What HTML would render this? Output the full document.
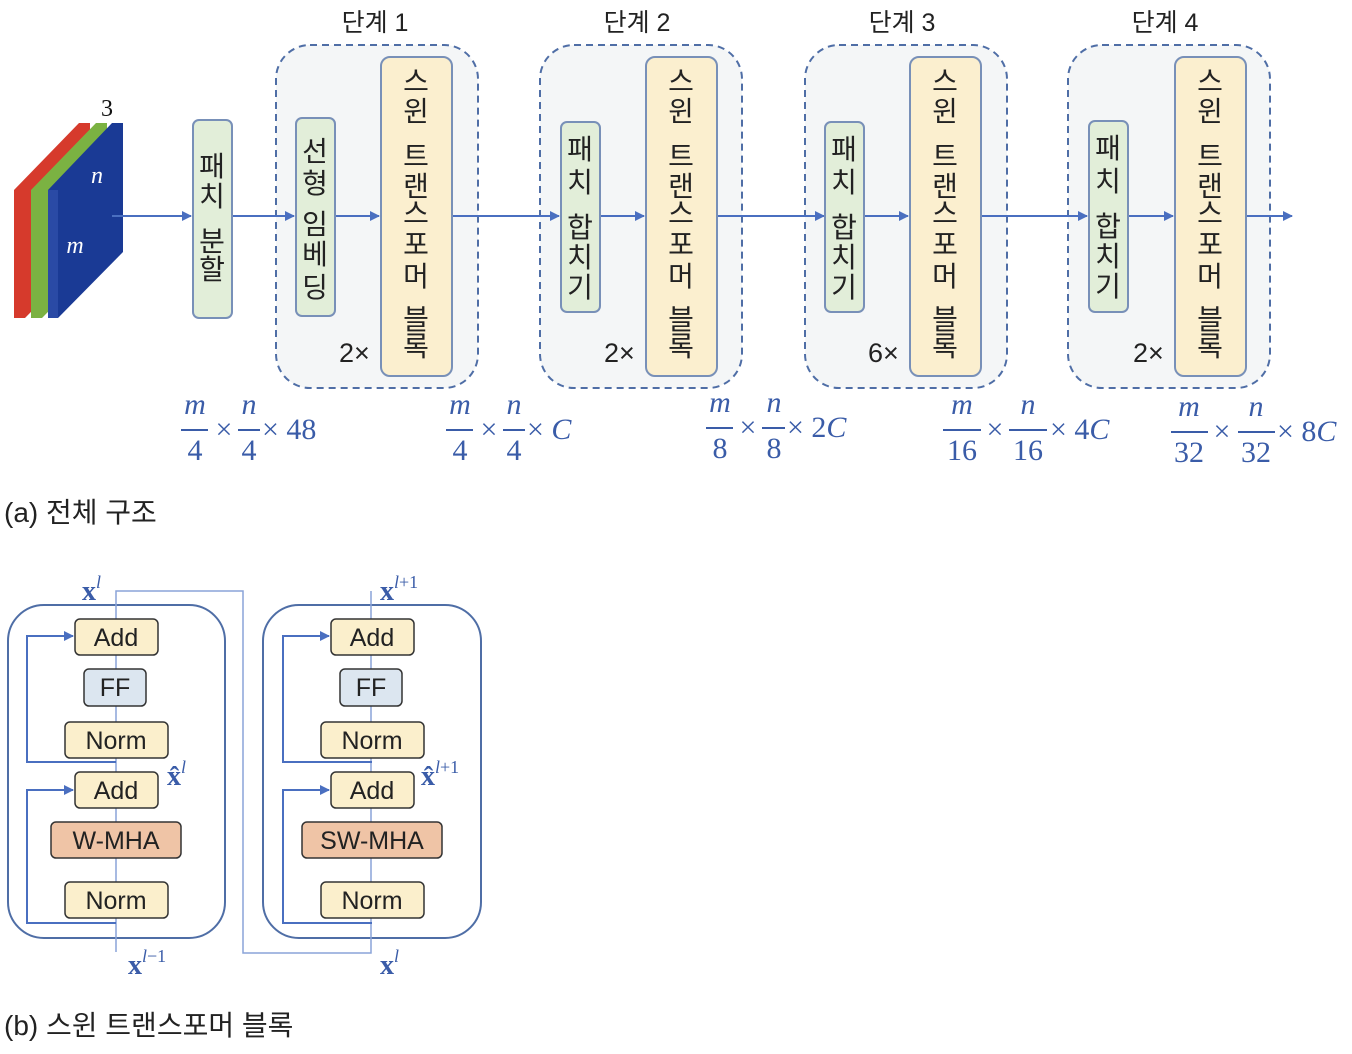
<!DOCTYPE html>
<html><head><meta charset="utf-8"><style>
html,body{margin:0;padding:0;background:#fff;}
svg{display:block;}
.k{font-family:"Liberation Sans","Noto Sans CJK KR",sans-serif;fill:#222;}
.v{font-family:"Noto Sans CJK KR",sans-serif;font-size:28px;fill:#222;text-anchor:middle;dominant-baseline:central;}
.m{font-family:"Liberation Serif",serif;fill:#3a5ca8;text-anchor:middle;}
.s{text-anchor:start;}
.b{font-family:"Liberation Sans",sans-serif;font-size:25px;fill:#222;text-anchor:middle;dominant-baseline:central;}
.x{font-family:"Liberation Serif",serif;fill:#3a5ca8;font-weight:bold;}
</style></head><body>
<svg width="1352" height="1054" viewBox="0 0 1352 1054" xmlns="http://www.w3.org/2000/svg">
<defs><marker id="a" markerWidth="10" markerHeight="10" refX="9" refY="5" orient="auto" markerUnits="userSpaceOnUse"><path d="M0,0 L10,5 L0,10 z" fill="#4a6fc0"/></marker></defs>

<polygon points="14,190 79,123 90,123 90,252 25,318 14,318" fill="#d63a2c"/>
<polygon points="31,190 96,123 107,123 107,252 42,318 31,318" fill="#7bb242"/>
<polygon points="48,190 112,123 123,123 123,252 58,318 48,318" fill="#1a3a95"/>
<polygon points="48,190 58,190 58,318 48,318" fill="#2a4aa5"/>
<text x="107" y="116" font-family="Liberation Serif" font-size="24" fill="#111" text-anchor="middle">3</text>
<text x="97" y="183" font-family="Liberation Serif" font-style="italic" font-size="24" fill="#fff" text-anchor="middle">n</text>
<text x="75" y="253" font-family="Liberation Serif" font-style="italic" font-size="24" fill="#fff" text-anchor="middle">m</text>

<g fill="#f4f6f7" stroke="#4f6ea6" stroke-width="2" stroke-dasharray="7,5">
<rect x="276" y="45" width="202" height="343" rx="34"/>
<rect x="540" y="45" width="202" height="343" rx="34"/>
<rect x="805" y="45" width="202" height="343" rx="34"/>
<rect x="1068" y="45" width="202" height="343" rx="34"/>
</g>
<g class="k" font-size="25" text-anchor="middle">
<text x="375" y="31">단계 1</text><text x="637" y="31">단계 2</text><text x="902" y="31">단계 3</text><text x="1165" y="31">단계 4</text>
</g>

<g stroke="#4a6fc0" stroke-width="2" fill="none">
<line x1="112" y1="216" x2="191" y2="216" marker-end="url(#a)"/>
<line x1="232" y1="216" x2="294" y2="216" marker-end="url(#a)"/>
<line x1="335" y1="216" x2="379" y2="216" marker-end="url(#a)"/>
<line x1="452" y1="216" x2="559" y2="216" marker-end="url(#a)"/>
<line x1="600" y1="216" x2="644" y2="216" marker-end="url(#a)"/>
<line x1="717" y1="216" x2="824" y2="216" marker-end="url(#a)"/>
<line x1="864" y1="216" x2="908" y2="216" marker-end="url(#a)"/>
<line x1="981" y1="216" x2="1087" y2="216" marker-end="url(#a)"/>
<line x1="1128" y1="216" x2="1173" y2="216" marker-end="url(#a)"/>
<line x1="1246" y1="216" x2="1292" y2="216" marker-end="url(#a)"/>
</g>

<g fill="#e2eed9" stroke="#7890b8" stroke-width="2">
<rect x="193" y="120" width="39" height="198" rx="6"/>
<rect x="296" y="118" width="39" height="198" rx="6"/>
<rect x="561" y="122" width="39" height="190" rx="6"/>
<rect x="825" y="122" width="39" height="190" rx="6"/>
<rect x="1089" y="121" width="39" height="191" rx="6"/>
</g>
<g fill="#fbefcf" stroke="#7890b8" stroke-width="2">
<rect x="381" y="57" width="71" height="319" rx="9"/>
<rect x="646" y="57" width="71" height="319" rx="9"/>
<rect x="910" y="57" width="71" height="319" rx="9"/>
<rect x="1175" y="57" width="71" height="319" rx="9"/>
</g>
<g class="k" font-size="27" font-family="Liberation Serif">
<text x="339" y="362">2×</text>
<text x="604" y="362">2×</text>
<text x="868" y="362">6×</text>
<text x="1133" y="362">2×</text>
</g>

<g class="v">
<text x="212" y="165">패</text><text x="212" y="195">치</text><text x="212" y="240">분</text><text x="212" y="268">할</text>
<text x="315" y="150">선</text><text x="315" y="182">형</text><text x="315" y="223">임</text><text x="315" y="253">베</text><text x="315" y="286">딩</text>
<text x="580" y="148">패</text><text x="580" y="181">치</text><text x="580" y="226">합</text><text x="580" y="256">치</text><text x="580" y="286">기</text>
<text x="844" y="148">패</text><text x="844" y="181">치</text><text x="844" y="226">합</text><text x="844" y="256">치</text><text x="844" y="286">기</text>
<text x="1108" y="147">패</text><text x="1108" y="180">치</text><text x="1108" y="225">합</text><text x="1108" y="255">치</text><text x="1108" y="285">기</text>
<text x="416" y="80">스</text><text x="416" y="110">윈</text><text x="416" y="155">트</text><text x="416" y="185">랜</text><text x="416" y="212">스</text><text x="416" y="243">포</text><text x="416" y="275">머</text><text x="416" y="318">블</text><text x="416" y="345">록</text>
<text x="681" y="80">스</text><text x="681" y="110">윈</text><text x="681" y="155">트</text><text x="681" y="185">랜</text><text x="681" y="212">스</text><text x="681" y="243">포</text><text x="681" y="275">머</text><text x="681" y="318">블</text><text x="681" y="345">록</text>
<text x="945" y="80">스</text><text x="945" y="110">윈</text><text x="945" y="155">트</text><text x="945" y="185">랜</text><text x="945" y="212">스</text><text x="945" y="243">포</text><text x="945" y="275">머</text><text x="945" y="318">블</text><text x="945" y="345">록</text>
<text x="1210" y="80">스</text><text x="1210" y="110">윈</text><text x="1210" y="155">트</text><text x="1210" y="185">랜</text><text x="1210" y="212">스</text><text x="1210" y="243">포</text><text x="1210" y="275">머</text><text x="1210" y="318">블</text><text x="1210" y="345">록</text>
</g>

<g class="m" font-size="30">
<g font-style="italic"><text x="195" y="414">m</text><text x="249" y="414">n</text>
<text x="460" y="414">m</text><text x="514" y="414">n</text>
<text x="720" y="412">m</text><text x="774" y="412">n</text>
<text x="962" y="414">m</text><text x="1028" y="414">n</text>
<text x="1189" y="416">m</text><text x="1256" y="416">n</text></g>
<text x="195" y="460">4</text><text x="249" y="460">4</text>
<text x="460" y="460">4</text><text x="514" y="460">4</text>
<text x="720" y="458">8</text><text x="774" y="458">8</text>
<text x="962" y="460">16</text><text x="1028" y="460">16</text>
<text x="1189" y="462">32</text><text x="1256" y="462">32</text>
<text x="224" y="439">×</text><text class="s" x="262" y="439">× 48</text>
<text x="489" y="439">×</text><text class="s" x="527" y="439">× <tspan font-style="italic">C</tspan></text>
<text x="748" y="437">×</text><text class="s" x="787" y="437">× 2<tspan font-style="italic">C</tspan></text>
<text x="995" y="439">×</text><text class="s" x="1050" y="439">× 4<tspan font-style="italic">C</tspan></text>
<text x="1222" y="441">×</text><text class="s" x="1277" y="441">× 8<tspan font-style="italic">C</tspan></text>
</g>
<g stroke="#3a5ca8" stroke-width="2">
<line x1="181" y1="430" x2="208" y2="430"/><line x1="238" y1="430" x2="260" y2="430"/>
<line x1="446" y1="430" x2="473" y2="430"/><line x1="503" y1="430" x2="525" y2="430"/>
<line x1="706" y1="428" x2="733" y2="428"/><line x1="762" y1="428" x2="785" y2="428"/>
<line x1="943" y1="430" x2="981" y2="430"/><line x1="1009" y1="430" x2="1047" y2="430"/>
<line x1="1171" y1="432" x2="1208" y2="432"/><line x1="1238" y1="432" x2="1275" y2="432"/>
</g>

<text x="4" y="522" class="k" font-size="28">(a) 전체 구조</text>
<text x="4" y="1035" class="k" font-size="28">(b) 스윈 트랜스포머 블록</text>

<g fill="none" stroke="#4f6ea6" stroke-width="2">
<rect x="8" y="605" width="217" height="333" rx="36"/>
<rect x="263" y="605" width="218" height="333" rx="36"/>
</g>
<g fill="none" stroke="#8aa4d8" stroke-width="1.5">
<polyline points="116,952 116,591 243,591 243,953 371,953 371,591"/>
</g>
<g fill="none" stroke="#4a6fc0" stroke-width="2">
<polyline points="116,762 27,762 27,636 73,636" marker-end="url(#a)"/>
<polyline points="116,923 27,923 27,790 73,790" marker-end="url(#a)"/>
<polyline points="372,762 283,762 283,636 329,636" marker-end="url(#a)"/>
<polyline points="372,923 283,923 283,790 329,790" marker-end="url(#a)"/>
</g>
<g stroke="#333" stroke-width="1.5">
<rect x="75" y="619" width="83" height="36" rx="5" fill="#fbefcc"/>
<rect x="84" y="669" width="62" height="37" rx="5" fill="#dce6f0"/>
<rect x="65" y="722" width="103" height="36" rx="5" fill="#fbefcc"/>
<rect x="75" y="772" width="83" height="36" rx="5" fill="#fbefcc"/>
<rect x="51" y="822" width="130" height="36" rx="5" fill="#efc4a6"/>
<rect x="65" y="882" width="103" height="36" rx="5" fill="#fbefcc"/>
<rect x="331" y="619" width="83" height="36" rx="5" fill="#fbefcc"/>
<rect x="340" y="669" width="62" height="37" rx="5" fill="#dce6f0"/>
<rect x="321" y="722" width="103" height="36" rx="5" fill="#fbefcc"/>
<rect x="331" y="772" width="83" height="36" rx="5" fill="#fbefcc"/>
<rect x="302" y="822" width="140" height="36" rx="5" fill="#efc4a6"/>
<rect x="321" y="882" width="103" height="36" rx="5" fill="#fbefcc"/>
</g>
<g class="b">
<text x="116" y="638">Add</text><text x="115" y="688">FF</text><text x="116" y="741">Norm</text><text x="116" y="791">Add</text><text x="116" y="841">W-MHA</text><text x="116" y="901">Norm</text>
<text x="372" y="638">Add</text><text x="371" y="688">FF</text><text x="372" y="741">Norm</text><text x="372" y="791">Add</text><text x="372" y="841">SW-MHA</text><text x="372" y="901">Norm</text>
</g>
<g class="x" font-size="28">
<text x="82" y="600">x<tspan font-size="18" font-weight="normal" font-style="italic" dy="-12">l</tspan></text>
<text x="167" y="785">x̂<tspan font-size="18" font-weight="normal" font-style="italic" dy="-12">l</tspan></text>
<text x="128" y="974">x<tspan font-size="18" font-weight="normal" font-style="italic" dy="-12">l</tspan><tspan font-size="18" font-weight="normal">−1</tspan></text>
<text x="380" y="600">x<tspan font-size="18" font-weight="normal" font-style="italic" dy="-12">l</tspan><tspan font-size="18" font-weight="normal">+1</tspan></text>
<text x="421" y="785">x̂<tspan font-size="18" font-weight="normal" font-style="italic" dy="-12">l</tspan><tspan font-size="18" font-weight="normal">+1</tspan></text>
<text x="380" y="974">x<tspan font-size="18" font-weight="normal" font-style="italic" dy="-12">l</tspan></text>
</g>
</svg>
</body></html>
